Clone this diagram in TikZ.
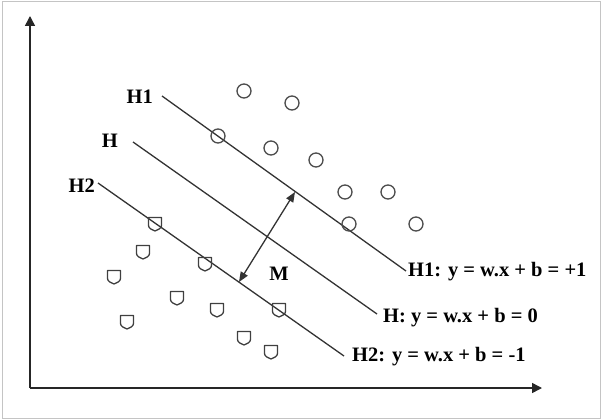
\documentclass[tikz,border=0pt]{standalone}
\usepackage{fontspec}
\setmainfont{Liberation Serif}
\usetikzlibrary{arrows.meta}
\definecolor{linegray}{HTML}{333333}
\definecolor{framegray}{HTML}{C4C4C4}
\begin{document}
\begin{tikzpicture}[x=1pt,y=-1pt,
  lbl/.style={font=\fontsize{20.5}{24}\selectfont\bfseries, inner sep=0pt, text=black},
  hyper/.style={draw=linegray, line width=1.3pt},
  axis/.style={draw=black!85, line width=1.5pt, -{Triangle[length=10pt,width=10pt]}},
  pt/.style={circle, draw=black!70, line width=1.3pt, minimum size=14pt, inner sep=0pt},
  shield/.pic={\draw[black!75, line width=1.3pt, line join=round]
     (-6.5,-6.5) -- (6.5,-6.5) -- (6.5,1.5) .. controls (6.5,4.5) and (2.5,6) .. (0,7)
     .. controls (-2.5,6) and (-6.5,4.5) .. (-6.5,1.5) -- cycle;}
]
\useasboundingbox (0,0) rectangle (602,420);
\draw[framegray, line width=1pt] (2,2) rectangle (600,418);

% axes
\coordinate (O) at (30,388);
\coordinate (Ytop) at (30,16);
\coordinate (Xend) at (542,388);
\draw[axis] (O) -- (Ytop);
\draw[axis] (O) -- (Xend);

% hyperplanes
\coordinate (h1a) at (162,96);  \coordinate (h1b) at (406,271);
\coordinate (ha)  at (133,142); \coordinate (hb)  at (377,314);
\coordinate (h2a) at (98,183);  \coordinate (h2b) at (344,356);
\draw[hyper] (h1a) -- (h1b);
\draw[hyper] (ha) -- (hb);
\draw[hyper] (h2a) -- (h2b);

\node[lbl, anchor=east] (l1) at (153,97) {H1};
\node[lbl, anchor=east] (l0) at (118,141) {H};
\node[lbl, anchor=east] (l2) at (95,186) {H2};

\node[lbl, anchor=west] (r1) at (408,272) {H1: y = w.x + b = +1};
\node[lbl, anchor=west] (r0) at (383,318) {H: y = w.x + b = 0};
\node[lbl, anchor=west] (r2) at (352,357) {H2: y = w.x + b = -1};

% margin arrow
\coordinate (m1) at (295,192);
\coordinate (m2) at (239,282);
\draw[linegray, line width=1.3pt, {Triangle[length=10pt,width=8pt]}-{Triangle[length=10pt,width=8pt]}] (m2) -- (m1);
\node[lbl] (M) at (279,274) {M};

% circles
\node[pt] (c1) at (244,91) {};
\node[pt] (c2) at (292,103) {};
\node[pt] (c3) at (218,136) {};
\node[pt] (c4) at (271,148) {};
\node[pt] (c5) at (316,160) {};
\node[pt] (c6) at (345,192) {};
\node[pt] (c7) at (388,192) {};
\node[pt] (c8) at (349,224) {};
\node[pt] (c9) at (416,224) {};

% shields
\foreach \p/\q in {155/224, 143/252, 114/277, 205/264, 177/298, 127/322, 217/310, 279/310, 244/338, 271/352}
  \pic at (\p,\q) {shield};
\end{tikzpicture}
\end{document}
